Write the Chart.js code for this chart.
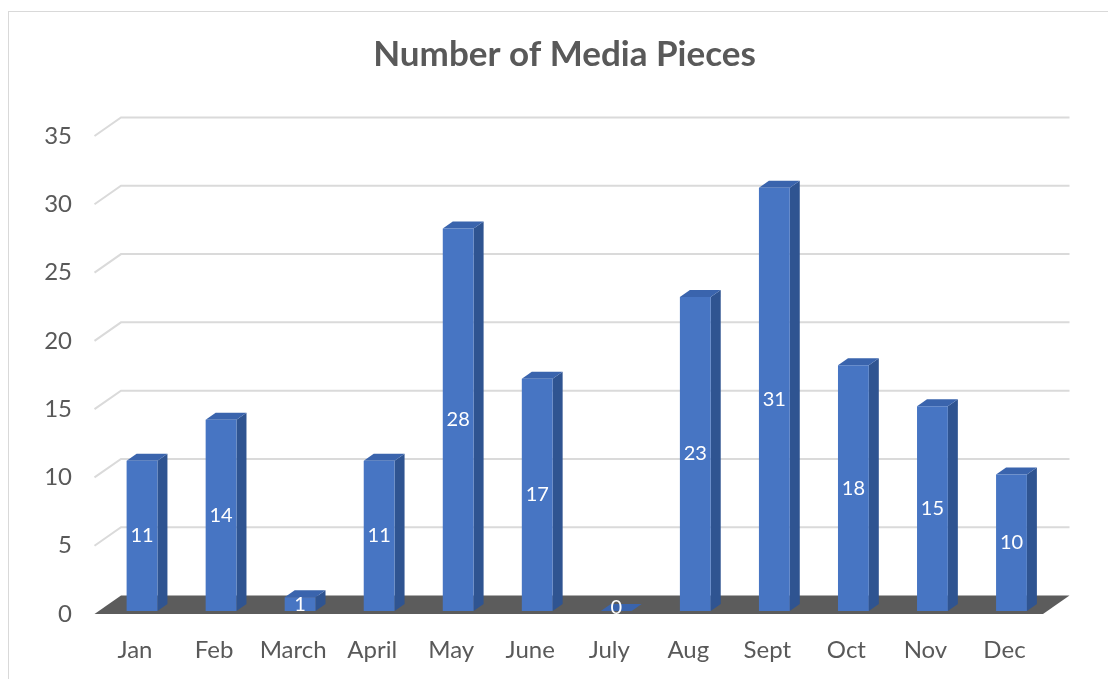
<!DOCTYPE html>
<html><head><meta charset="utf-8">
<script src="https://cdn.jsdelivr.net/npm/chart.js@4.4.1/dist/chart.umd.min.js"></script>
<style>html,body{margin:0;padding:0;background:#fff;overflow:hidden}#wrap{width:1108px;height:679px;position:relative}</style>
</head><body><div id="wrap"><canvas id="c" width="1108" height="679"></canvas></div>
<script>
const categories = ['Jan','Feb','March','April','May','June','July','Aug','Sept','Oct','Nov','Dec'];
const mediaPieces = [11,14,1,11,28,17,0,23,31,18,15,10];
const yTicks = [0,5,10,15,20,25,30,35];
const titleText = 'Number of Media Pieces';

const FONT = 'Lato, "Open Sans", sans-serif';
const TEXT = '#595959';
const BAR_FRONT = '#4775c3', BAR_SIDE = '#2f5491', BAR_TOP = '#3a64ad';
const DX = 10, DY = -7;               // bar depth
const F_DX = -8, F_DY = 3, B_DX = 18.5, B_DY = -15.5; // floor / wall depth

const depth3d = {
  id: 'depth3d',
  beforeDraw(chart) {
    const ctx = chart.ctx;
    ctx.save();
    ctx.strokeStyle = '#d9d9d9'; ctx.lineWidth = 1;
    ctx.strokeRect(8.5, 11.5, 1300, 1000);
    ctx.restore();
  },
  beforeDatasetsDraw(chart) {
    const {ctx, chartArea: a, scales: {y}} = chart;
    ctx.save();
    ctx.strokeStyle = '#dadada'; ctx.lineWidth = 2;
    y.ticks.forEach(t => {
      if (t.value === 0) return;
      const p = y.getPixelForValue(t.value);
      ctx.beginPath();
      ctx.moveTo(a.left + F_DX, p + F_DY);
      ctx.lineTo(a.left + B_DX, p + B_DY);
      ctx.lineTo(a.right + B_DX, p + B_DY);
      ctx.stroke();
    });
    const p0 = y.getPixelForValue(0);
    ctx.fillStyle = '#5c5c5c';
    ctx.beginPath();
    ctx.moveTo(a.left + F_DX, p0 + F_DY);
    ctx.lineTo(a.right + F_DX, p0 + F_DY);
    ctx.lineTo(a.right + B_DX, p0 + B_DY);
    ctx.lineTo(a.left + B_DX, p0 + B_DY);
    ctx.closePath(); ctx.fill();
    chart.getDatasetMeta(0).data.forEach(el => {
      const l = el.x - el.width / 2, r = el.x + el.width / 2, t = el.y, b = el.base;
      ctx.fillStyle = BAR_SIDE;
      ctx.beginPath();
      ctx.moveTo(r, t); ctx.lineTo(r + DX, t + DY); ctx.lineTo(r + DX, b + DY); ctx.lineTo(r, b);
      ctx.closePath(); ctx.fill();
      ctx.fillStyle = BAR_TOP;
      ctx.beginPath();
      ctx.moveTo(l, t); ctx.lineTo(l + DX, t + DY); ctx.lineTo(r + DX, t + DY); ctx.lineTo(r, t);
      ctx.closePath(); ctx.fill();
    });
    ctx.restore();
  },
  afterDatasetsDraw(chart) {
    const ctx = chart.ctx;
    ctx.save();
    ctx.fillStyle = '#ffffff';
    ctx.font = '20px ' + FONT;
    ctx.textAlign = 'center'; ctx.textBaseline = 'middle';
    chart.getDatasetMeta(0).data.forEach((el, i) => {
      const v = chart.data.datasets[0].data[i];
      const yy = v === 0 ? el.base - 3 : (el.y + el.base) / 2;
      ctx.fillText(String(v), el.x, yy);
    });
    ctx.restore();
  }
};

new Chart(document.getElementById('c'), {
  type: 'bar',
  data: {
    labels: categories,
    datasets: [{
      data: mediaPieces,
      backgroundColor: BAR_FRONT,
      borderWidth: 0,
      barPercentage: 0.39,
      categoryPercentage: 1
    }]
  },
  options: {
    responsive: false,
    devicePixelRatio: 1,
    animation: false,
    layout: { padding: { left: 40, right: 19, top: 0, bottom: 0 } },
    plugins: {
      legend: { display: false },
      tooltip: { enabled: false },
      title: {
        display: true, text: titleText, color: TEXT,
        font: { family: FONT, size: 35, weight: 'bold' },
        padding: { top: 34, bottom: 57 }
      }
    },
    scales: {
      x: {
        grid: { display: false, drawTicks: false },
        border: { display: false },
        ticks: { color: TEXT, font: { family: FONT, size: 24 }, padding: 25, labelOffset: -7, maxRotation: 0, autoSkip: false },
        afterFit(s) { s.height = 68; }
      },
      y: {
        min: 0, max: 35,
        afterBuildTicks(s) { s.ticks = yTicks.map(v => ({ value: v })); },
        grid: { display: false, drawTicks: false },
        border: { display: false },
        ticks: { color: TEXT, font: { family: FONT, size: 24 }, padding: 30.5, labelOffset: 3 },
        afterFit(s) { s.width = 62.5; }
      },
      ySpace: {
        position: 'right',
        grid: { display: false, drawTicks: false },
        border: { display: false },
        ticks: { display: false },
        afterFit(s) { s.width = 38; }
      }
    }
  },
  plugins: [depth3d]
});
</script>
</body></html>
